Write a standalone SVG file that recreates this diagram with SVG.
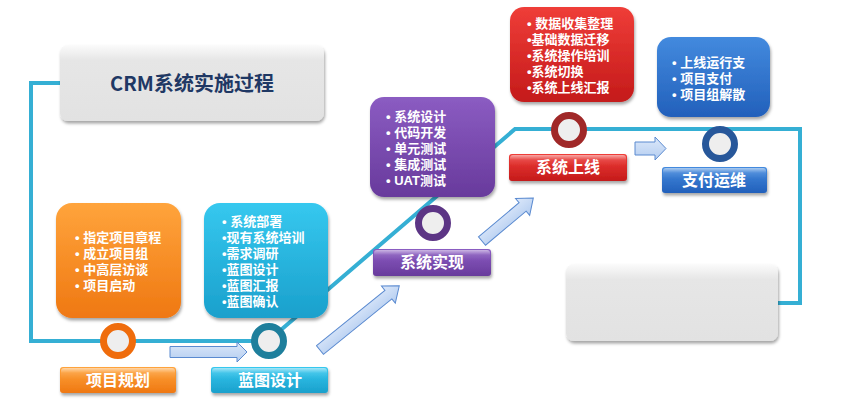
<svg xmlns="http://www.w3.org/2000/svg" width="856" height="403" viewBox="0 0 856 403">
<defs>
  <filter id="sh" x="-20%" y="-20%" width="140%" height="150%">
    <feDropShadow dx="1" dy="2.5" stdDeviation="1.8" flood-color="#000" flood-opacity="0.35"/>
  </filter>
  <linearGradient id="gGray" x1="0" y1="0" x2="0" y2="1">
    <stop offset="0" stop-color="#fbfbfb"/><stop offset="0.2" stop-color="#e6e6e6"/><stop offset="1" stop-color="#e2e2e2"/>
  </linearGradient>
  <linearGradient id="gOr" x1="0" y1="0" x2="0" y2="1">
    <stop offset="0" stop-color="#ffa43c"/><stop offset="1" stop-color="#ef7812"/>
  </linearGradient>
  <linearGradient id="gTe" x1="0" y1="0" x2="0" y2="1">
    <stop offset="0" stop-color="#36c8ef"/><stop offset="1" stop-color="#1aa0cc"/>
  </linearGradient>
  <linearGradient id="gPu" x1="0" y1="0" x2="0" y2="1">
    <stop offset="0" stop-color="#8b5cc2"/><stop offset="1" stop-color="#683a9c"/>
  </linearGradient>
  <linearGradient id="gRe" x1="0" y1="0" x2="0" y2="1">
    <stop offset="0" stop-color="#ef3d38"/><stop offset="1" stop-color="#c41a1a"/>
  </linearGradient>
  <linearGradient id="gBl" x1="0" y1="0" x2="0" y2="1">
    <stop offset="0" stop-color="#438ade"/><stop offset="1" stop-color="#2260bb"/>
  </linearGradient>
  <linearGradient id="gGloss" x1="0" y1="0" x2="0" y2="1">
    <stop offset="0" stop-color="#fff" stop-opacity="0.55"/><stop offset="0.45" stop-color="#fff" stop-opacity="0.1"/><stop offset="1" stop-color="#fff" stop-opacity="0"/>
  </linearGradient>
  <linearGradient id="gArr" x1="0" y1="0" x2="0" y2="1">
    <stop offset="0" stop-color="#dce8fa"/><stop offset="1" stop-color="#b4cdf0"/>
  </linearGradient>
  <style>
    .line{fill:none;stroke:#35afd4;stroke-width:4;stroke-linejoin:miter}
    .arrow{fill:url(#gArr);stroke:#5a8ad0;stroke-width:1}
    .ring{fill:#eeeeee;stroke-width:7}
    .bt{font-family:"Liberation Sans","Noto Sans CJK SC",sans-serif;font-weight:bold;font-size:13px;fill:#fff}
    .lt{font-family:"Noto Sans CJK SC",sans-serif;font-weight:bold;font-size:16px;fill:#fff;text-anchor:middle}
    .gloss{fill:url(#gGloss)}
  </style>
</defs>

<g id="connectors">
  <path class="line" d="M62,83 H31 V341 H268 L515,129 H800 V303 H776"/>
  <path class="arrow" d="M170,346.5 H237 V342 L247,352 L237,362 V357.5 H170 Z"/>
  <path class="arrow" transform="translate(320,350) rotate(-39)" d="M0,-5.5 H88 V-11 L102,0 L88,11 V5.5 H0 Z"/>
  <path class="arrow" transform="translate(482,241) rotate(-40)" d="M0,-5.5 H53 V-11 L67,0 L53,11 V5.5 H0 Z"/>
  <path class="arrow" d="M635,142 H655 V137 L666,148.5 L655,160 V155 H635 Z"/>
</g>

<g id="title">
  <rect x="60" y="45" width="264" height="76" rx="8" fill="url(#gGray)" filter="url(#sh)"/>
  <text x="192" y="91" text-anchor="middle" font-family="'Noto Sans CJK SC',sans-serif" font-weight="bold" font-size="20" fill="#1f3864">CRM系统实施过程</text>
</g>

<g id="blank-box">
  <rect x="566" y="264" width="212" height="77" rx="8" fill="url(#gGray)" filter="url(#sh)"/>
</g>

<g id="plan-detail">
  <rect x="56" y="203" width="125" height="115" rx="16" fill="url(#gOr)" filter="url(#sh)"/>
  <text class="bt"><tspan x="75" y="242">• 指定项目章程</tspan><tspan x="75" y="258">• 成立项目组</tspan><tspan x="75" y="274">• 中高层访谈</tspan><tspan x="75" y="290">• 项目启动</tspan></text>
</g>
<g id="plan-stage">
  <circle class="ring" cx="118" cy="341" r="14.5" stroke="#ef6c0c"/>
  <rect x="60" y="367" width="116" height="26" rx="3" fill="url(#gOr)" filter="url(#sh)"/>
  <rect x="61" y="368" width="114" height="11" rx="3" class="gloss"/>
  <text class="lt" x="118" y="386">项目规划</text>
</g>

<g id="blueprint-detail">
  <rect x="204" y="203" width="124" height="115" rx="16" fill="url(#gTe)" filter="url(#sh)"/>
  <text class="bt"><tspan x="222" y="226">• 系统部署</tspan><tspan x="222" y="242">•现有系统培训</tspan><tspan x="222" y="258">•需求调研</tspan><tspan x="222" y="274">•蓝图设计</tspan><tspan x="222" y="290">•蓝图汇报</tspan><tspan x="222" y="306">•蓝图确认</tspan></text>
</g>
<g id="blueprint-stage">
  <circle class="ring" cx="269" cy="341" r="14.5" stroke="#1e7f9c"/>
  <rect x="211" y="367" width="117" height="26" rx="3" fill="url(#gTe)" filter="url(#sh)"/>
  <rect x="212" y="368" width="115" height="11" rx="3" class="gloss"/>
  <text class="lt" x="270" y="386">蓝图设计</text>
</g>

<g id="build-detail">
  <rect x="370" y="97" width="125" height="100" rx="14" fill="url(#gPu)" filter="url(#sh)"/>
  <text class="bt"><tspan x="386" y="121">• 系统设计</tspan><tspan x="386" y="137">• 代码开发</tspan><tspan x="386" y="153">• 单元测试</tspan><tspan x="386" y="169">• 集成测试</tspan><tspan x="386" y="185">• UAT测试</tspan></text>
</g>
<g id="build-stage">
  <circle class="ring" cx="433" cy="223" r="14.5" stroke="#5c3585"/>
  <rect x="373" y="249" width="118" height="27" rx="3" fill="url(#gPu)" filter="url(#sh)"/>
  <rect x="374" y="250" width="116" height="11" rx="3" class="gloss"/>
  <text class="lt" x="432" y="268">系统实现</text>
</g>

<g id="golive-detail">
  <rect x="510" y="7" width="124" height="95" rx="14" fill="url(#gRe)" filter="url(#sh)"/>
  <text class="bt"><tspan x="527" y="28">• 数据收集整理</tspan><tspan x="527" y="44">•基础数据迁移</tspan><tspan x="527" y="60">•系统操作培训</tspan><tspan x="527" y="76">•系统切换</tspan><tspan x="527" y="92">•系统上线汇报</tspan></text>
</g>
<g id="golive-stage">
  <circle class="ring" cx="569" cy="130" r="14.5" stroke="#a02828"/>
  <rect x="509" y="154" width="118" height="27" rx="3" fill="url(#gRe)" filter="url(#sh)"/>
  <rect x="510" y="155" width="116" height="11" rx="3" class="gloss"/>
  <text class="lt" x="568" y="173">系统上线</text>
</g>

<g id="pay-detail">
  <rect x="657" y="37" width="113" height="80" rx="14" fill="url(#gBl)" filter="url(#sh)"/>
  <text class="bt"><tspan x="672" y="67">• 上线运行支</tspan><tspan x="672" y="83">• 项目支付</tspan><tspan x="672" y="99">• 项目组解散</tspan></text>
</g>
<g id="pay-stage">
  <circle class="ring" cx="720" cy="144" r="14.5" stroke="#27579a"/>
  <rect x="662" y="167" width="105" height="26" rx="3" fill="url(#gBl)" filter="url(#sh)"/>
  <rect x="663" y="168" width="103" height="11" rx="3" class="gloss"/>
  <text class="lt" x="714" y="186">支付运维</text>
</g>
</svg>
